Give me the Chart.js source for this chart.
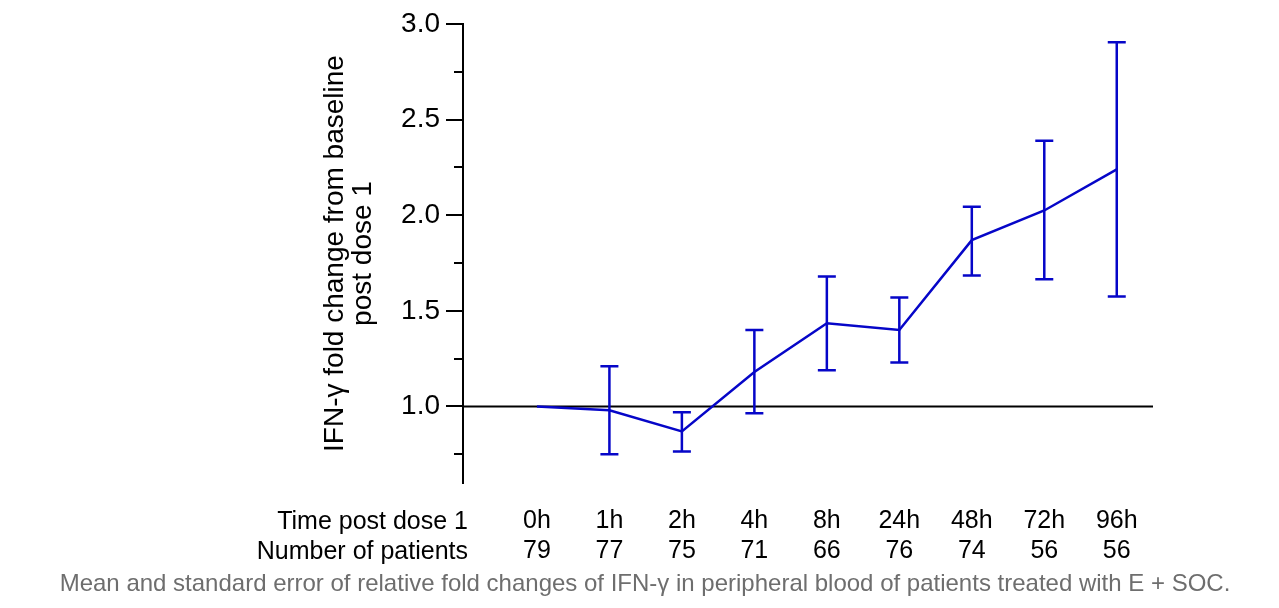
<!DOCTYPE html>
<html>
<head>
<meta charset="utf-8">
<script src="https://cdn.jsdelivr.net/npm/chart.js@4"></script>
<style>
  html, body { margin: 0; padding: 0; background: #fff; }
  #wrap { width: 1279px; height: 608px; }
</style>
</head>
<body>
<div id="wrap"><canvas id="ifnChart"></canvas></div>
<script>
// data
const timeLabels = ['0h', '1h', '2h', '4h', '8h', '24h', '48h', '72h', '96h'];
const patientCounts = [79, 77, 75, 71, 66, 76, 74, 56, 56];
const meanFold = [1.00, 0.98, 0.87, 1.18, 1.435, 1.40, 1.87, 2.025, 2.24];
const errUpper = [null, 1.21, 0.97, 1.40, 1.68, 1.57, 2.045, 2.39, 2.905];
const errLower = [null, 0.75, 0.765, 0.965, 1.19, 1.23, 1.685, 1.665, 1.575];
const yTickValues = [0.75, 1.0, 1.25, 1.5, 1.75, 2.0, 2.25, 2.5, 2.75, 3.0];
const rowHeaders = ['Time post dose 1', 'Number of patients'];
const caption = 'Mean and standard error of relative fold changes of IFN-\u03b3 in peripheral blood of patients treated with E + SOC.';

const xMin = -1.02, xMax = 8.5;
const blue = '#0606c8';
const fontFam = '"Liberation Sans", Arial, sans-serif';

// error bars + y ticks + row headers + caption
const extras = {
    id: 'extras',
    afterDatasetsDraw(chart) {
        const ctx = chart.ctx;
        const xs = chart.scales.x, ys = chart.scales.y;
        ctx.save();
        ctx.strokeStyle = blue;
        ctx.lineWidth = 2.5;
        for (let i = 0; i < meanFold.length; i++) {
            if (errUpper[i] == null) continue;
            const x = xs.getPixelForValue(i);
            const yt = ys.getPixelForValue(errUpper[i]);
            const yb = ys.getPixelForValue(errLower[i]);
            ctx.beginPath();
            ctx.moveTo(x, yt); ctx.lineTo(x, yb);
            ctx.moveTo(x - 9, yt); ctx.lineTo(x + 9, yt);
            ctx.moveTo(x - 9, yb); ctx.lineTo(x + 9, yb);
            ctx.stroke();
        }
        ctx.restore();
    },
    afterDraw(chart) {
        const ctx = chart.ctx;
        const xs = chart.scales.x, ys = chart.scales.y;
        const left = chart.chartArea.left;
        ctx.save();
        ctx.strokeStyle = '#000';
        ctx.lineWidth = 2;
        yTickValues.forEach(v => {
            const y = Math.round(ys.getPixelForValue(v));
            const len = (Math.round(v * 100) % 50 === 0) ? 17 : 9;
            ctx.beginPath();
            ctx.moveTo(left - len, y); ctx.lineTo(left, y);
            ctx.stroke();
        });
        ctx.fillStyle = '#000';
        ctx.font = '25px ' + fontFam;
        ctx.textAlign = 'right';
        ctx.textBaseline = 'middle';
        const rowTop = xs.top + 23;
        rowHeaders.forEach((t, r) => ctx.fillText(t, 468, rowTop + 16 + r * 30));
        ctx.fillStyle = '#6e6e6e';
        ctx.font = '24px ' + fontFam;
        ctx.textAlign = 'center';
        ctx.fillText(caption, 645, 584);
        ctx.restore();
    }
};

const ctx = document.getElementById('ifnChart').getContext('2d');
const ifnChart = new Chart(ctx, {
    type: 'line',
    data: {
        datasets: [{
            // reference line at 1.0
            data: [{x: xMin, y: 1}, {x: xMax, y: 1}],
            borderColor: '#000',
            borderWidth: 2,
            pointRadius: 0,
            order: 2
        }, {
            data: meanFold.map((v, i) => ({x: i, y: v})),
            borderColor: blue,
            borderWidth: 2.5,
            pointRadius: 0,
            tension: 0,
            order: 1
        }]
    },
    options: {
        responsive: true,
        maintainAspectRatio: false,
        animation: false,
        layout: { padding: { left: 318, right: 126, top: 24, bottom: 0 } },
        plugins: { legend: { display: false }, tooltip: { enabled: false } },
        scales: {
            x: {
                type: 'linear',
                min: xMin,
                max: xMax,
                afterBuildTicks: s => { s.ticks = timeLabels.map((t, i) => ({value: i})); },
                afterFit: s => { s.height = 125; s.paddingLeft = 0; s.paddingRight = 0; },
                grid: { display: false, drawTicks: false },
                border: { display: false },
                ticks: {
                    padding: 23,
                    color: '#000',
                    maxRotation: 0,
                    autoSkip: false,
                    font: { family: fontFam, size: 25, lineHeight: 1.2 },
                    callback: v => [timeLabels[v], String(patientCounts[v])]
                }
            },
            y: {
                min: 0.6,
                max: 3.0,
                afterBuildTicks: s => { s.ticks = yTickValues.map(v => ({value: v})); },
                afterFit: s => { s.width = 145; s.paddingTop = 0; s.paddingBottom = 0; },
                grid: { display: false, drawTicks: false },
                border: { display: true, color: '#000', width: 2 },
                ticks: {
                    padding: 23,
                    color: '#000',
                    autoSkip: false,
                    font: { family: fontFam, size: 28 },
                    callback: v => (Math.round(v * 100) % 50 === 0) ? v.toFixed(1) : ''
                },
                title: {
                    display: true,
                    text: ['IFN-\u03b3 fold change from baseline', 'post dose 1'],
                    color: '#000',
                    font: { family: fontFam, size: 28, lineHeight: 1.0 },
                    padding: { top: 3 }
                }
            }
        }
    },
    plugins: [extras]
});
</script>
</body>
</html>
